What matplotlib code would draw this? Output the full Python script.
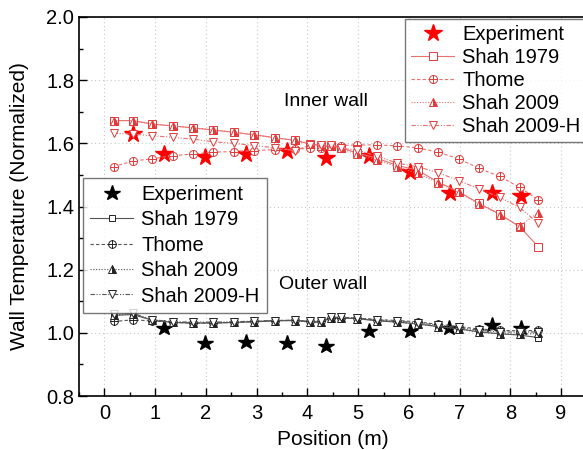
import matplotlib
matplotlib.use("Agg")
import matplotlib.pyplot as plt
from matplotlib.path import Path

plt.rcParams['font.family'] = ['Liberation Sans', 'DejaVu Sans']

# --------------------------------------------------------------------------
# Data
# --------------------------------------------------------------------------
pos_model = [0.18, 0.56, 0.94, 1.35, 1.75, 2.15, 2.55, 2.95, 3.36, 3.76, 4.06, 4.26,
             4.46, 4.66, 4.97, 5.37, 5.77, 6.17, 6.58, 6.98, 7.38, 7.79, 8.18, 8.55]
pos_exp = [0.56, 1.18, 1.98, 2.79, 3.60, 4.37, 5.21, 6.02, 6.82, 7.64, 8.20]
pos_exp_out = [1.18, 1.98, 2.79, 3.60, 4.37, 5.21, 6.02, 6.80, 7.64, 8.20]

# inner wall
exp_in = [1.629, 1.566, 1.558, 1.566, 1.577, 1.554, 1.560, 1.509, 1.444, 1.444, 1.434]
shah1979_in = [1.672, 1.672, 1.661, 1.655, 1.649, 1.642, 1.635, 1.627, 1.618, 1.609, 1.598, 1.593,
               1.590, 1.586, 1.570, 1.553, 1.530, 1.515, 1.477, 1.447, 1.410, 1.376, 1.336, 1.273]
thome_in = [1.526, 1.544, 1.551, 1.561, 1.566, 1.572, 1.574, 1.577, 1.580, 1.582, 1.584, 1.586,
            1.590, 1.593, 1.595, 1.595, 1.592, 1.586, 1.572, 1.551, 1.521, 1.495, 1.461, 1.421]
shah2009_in = [1.672, 1.672, 1.661, 1.655, 1.649, 1.642, 1.635, 1.627, 1.618, 1.609, 1.598, 1.593,
               1.590, 1.584, 1.565, 1.547, 1.526, 1.505, 1.475, 1.445, 1.408, 1.374, 1.338, 1.381]
shah2009h_in = [1.632, 1.629, 1.624, 1.619, 1.613, 1.605, 1.600, 1.593, 1.586, 1.577, 1.595, 1.595,
                1.595, 1.584, 1.579, 1.560, 1.537, 1.526, 1.507, 1.482, 1.456, 1.429, 1.397, 1.347]

# outer wall
exp_out = [1.015, 0.969, 0.972, 0.967, 0.957, 1.006, 1.006, 1.015, 1.025, 1.015]
shah1979_out = [1.055, 1.058, 1.040, 1.033, 1.031, 1.031, 1.033, 1.035, 1.038, 1.039, 1.034, 1.034,
                1.047, 1.047, 1.045, 1.038, 1.034, 1.028, 1.020, 1.013, 1.003, 0.997, 0.993, 0.985]
thome_out = [1.036, 1.041, 1.038, 1.033, 1.031, 1.031, 1.033, 1.036, 1.039, 1.040, 1.036, 1.036,
             1.048, 1.048, 1.047, 1.042, 1.039, 1.035, 1.027, 1.020, 1.012, 1.008, 1.006, 1.008]
shah2009_out = [1.057, 1.060, 1.040, 1.033, 1.031, 1.031, 1.033, 1.035, 1.038, 1.039, 1.034, 1.034,
                1.047, 1.047, 1.045, 1.039, 1.034, 1.028, 1.019, 1.012, 1.002, 0.997, 0.995, 0.998]
shah2009h_out = [1.060, 1.062, 1.042, 1.035, 1.034, 1.034, 1.035, 1.037, 1.039, 1.040, 1.036, 1.036,
                 1.049, 1.049, 1.047, 1.041, 1.037, 1.032, 1.024, 1.017, 1.008, 1.003, 1.002, 1.003]

# --------------------------------------------------------------------------
# Styles
# --------------------------------------------------------------------------
# circle with a plus inside (Thome marker)
oplus = Path.make_compound_path(
    Path.unit_circle(),
    Path([[-1, 0], [1, 0]], [Path.MOVETO, Path.LINETO]),
    Path([[0, -1], [0, 1]], [Path.MOVETO, Path.LINETO]),
)

red = '#ff0000'
red_line = '#e87070'
red_edge = '#e23a3a'
blk_line = '#555555'

fig = plt.figure(figsize=(5.83, 4.5), dpi=100)
ax = fig.add_axes([79 / 583, 54 / 450, 507.5 / 583, 379 / 450])


def model_lines(col_line, col_edge, y1979, ythome, y2009, y2009h, ms):
    h = []
    h += ax.plot(pos_model, y1979, '-', color=col_line, lw=0.8, marker='s', ms=ms * 0.9,
                 mfc='white', mec=col_edge, mew=0.7, label='Shah 1979')
    h += ax.plot(pos_model, ythome, color=col_line, lw=0.8, ls=(0, (3, 2)), marker=oplus,
                 ms=ms, mfc='white', mec=col_edge, mew=0.7, label='Thome')
    h += ax.plot(pos_model, y2009, color=col_line, lw=0.8, ls=(0, (1, 1.5)), marker='^',
                 ms=ms, fillstyle='right', mfc=col_edge, mfcalt='white', mec=col_edge,
                 mew=0.7, label='Shah 2009')
    h += ax.plot(pos_model, y2009h, color=col_line, lw=0.8, ls=(0, (4, 1.5, 1, 1.5, 1, 1.5)),
                 marker='v', ms=ms, mfc='white', mec=col_edge, mew=0.7, label='Shah 2009-H')
    return h


# inner wall (red)
h_exp_in, = ax.plot(pos_exp, exp_in, ls='none', marker='*', ms=13, color=red,
                    mec=red, label='Experiment')
h_in = model_lines(red_line, red_edge, shah1979_in, thome_in, shah2009_in, shah2009h_in, 5.8)

# outer wall (black)
h_exp_out, = ax.plot(pos_exp_out, exp_out, ls='none', marker='*', ms=11.5, color='black',
                     label='Experiment')
h_out = model_lines(blk_line, '#222222', shah1979_out, thome_out, shah2009_out, shah2009h_out, 5.5)

ax.text(4.36, 1.732, 'Inner wall', fontsize=14, ha='center', va='center')
ax.text(4.31, 1.152, 'Outer wall', fontsize=14, ha='center', va='center')

# --------------------------------------------------------------------------
# Axes
# --------------------------------------------------------------------------
ax.set_xlim(-0.47, 9.5)
ax.set_ylim(0.8, 2.0)
ax.set_xticks(range(0, 10))
ax.set_xticks([i + 0.5 for i in range(-1, 10)], minor=True)
ax.set_yticks([0.8, 1.0, 1.2, 1.4, 1.6, 1.8, 2.0])
ax.set_yticks([0.9, 1.1, 1.3, 1.5, 1.7, 1.9], minor=True)
ax.yaxis.set_major_formatter(matplotlib.ticker.FormatStrFormatter('%.1f'))
ax.tick_params(which='both', direction='in', labelsize=14.5, width=1.0)
ax.tick_params(which='major', length=6)
ax.tick_params(which='minor', length=3)
ax.tick_params(axis='x', pad=6)
for s in ax.spines.values():
    s.set_linewidth(1.2)
ax.grid(True, which='major', ls=(0, (1, 2.5)), color='#c8c8c8', lw=0.8)

ax.set_xlabel('Position (m)', fontsize=15, labelpad=5)
ax.set_ylabel('Wall Temperature (Normalized)', fontsize=15, labelpad=12)

leg1 = ax.legend(handles=[h_exp_in] + h_in, loc='upper right', bbox_to_anchor=(1.0, 0.995),
                 fontsize=14.5, frameon=True, fancybox=False, edgecolor='#555555',
                 handlelength=2.15, handletextpad=0.4, labelspacing=0.2, borderpad=0.3,
                 borderaxespad=0.0)
leg1.get_frame().set_linewidth(1.0)
ax.add_artist(leg1)

leg2 = ax.legend(handles=[h_exp_out] + h_out, loc='upper left', bbox_to_anchor=(0.008, 0.576),
                 fontsize=14.5, frameon=True, fancybox=False, edgecolor='#555555',
                 handlelength=2.15, handletextpad=0.4, labelspacing=0.32, borderpad=0.35,
                 borderaxespad=0.0)
leg2.get_frame().set_linewidth(1.0)

fig.savefig('out.png', dpi=100)
